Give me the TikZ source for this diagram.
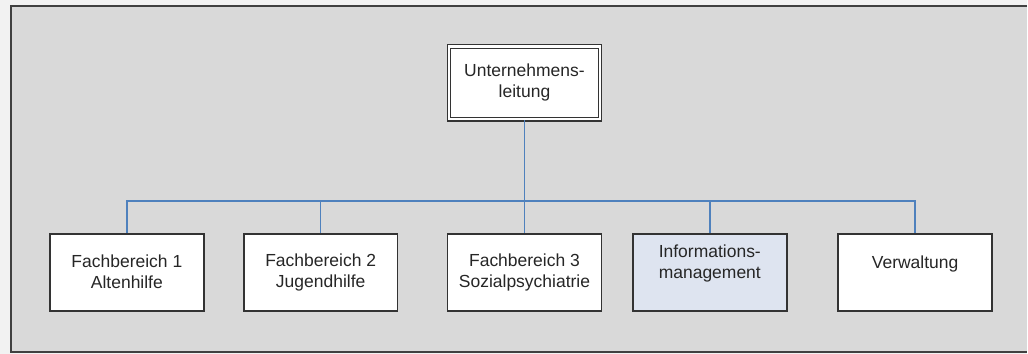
\documentclass[tikz,border=0pt]{standalone}
\usepackage{fontspec}
\setmainfont{Liberation Sans}
\definecolor{linkblue}{RGB}{79,129,189}
\definecolor{infofill}{RGB}{222,228,240}
\begin{document}
\begin{tikzpicture}[x=1pt,y=-1pt,
  unit/.style={draw=black!80,line width=1.6pt,fill=white,minimum width=154pt,minimum height=77pt,
    inner sep=0pt,align=center,font=\fontsize{17.5}{21}\selectfont,text=black!85},
  info/.style={unit,fill=infofill},
  top/.style={unit,double=white,double distance=2.2pt,line width=1.3pt,minimum width=151pt,minimum height=73pt},
  link/.style={draw=linkblue,line width=1.5pt}]
  % page and grey panel
  \fill[black!5] (0,0) rectangle (1028,354);
  \fill[black!15] (11,6) rectangle (1028,352);
  \draw[black!75,line width=2pt] (1028,6) -- (11,6) -- (11,352) -- (1028,352);
  \useasboundingbox (0,0) rectangle (1028,354);

  % boxes
  \node[top] (head) at (525,83) {Unternehmens-\\leitung};
  \node[unit] (f1) at (127,272.5) {Fachbereich 1\\Altenhilfe};
  \node[unit] (f2) at (321,272.5) {Fachbereich 2\\Jugendhilfe};
  \node[unit] (f3) at (525,272.5) {Fachbereich 3\\Sozialpsychiatrie};
  \node[info] (im) at (710.5,272.5) {Informations-\\management\\~};
  \node[unit] (vw) at (916,272.5) {Verwaltung\\~};

  % connectors
  \coordinate (bus) at (525,201);
  \draw[link] (head.south) -- (head.south |- bus);
  \draw[link] (f1.north) -- (f1.north |- bus) -- (vw.north |- bus) -- (vw.north);
  \draw[link] (f2.north) -- (f2.north |- bus);
  \draw[link] (f3.north) -- (f3.north |- bus);
  \draw[link] (im.north) -- (im.north |- bus);
\end{tikzpicture}
\end{document}
